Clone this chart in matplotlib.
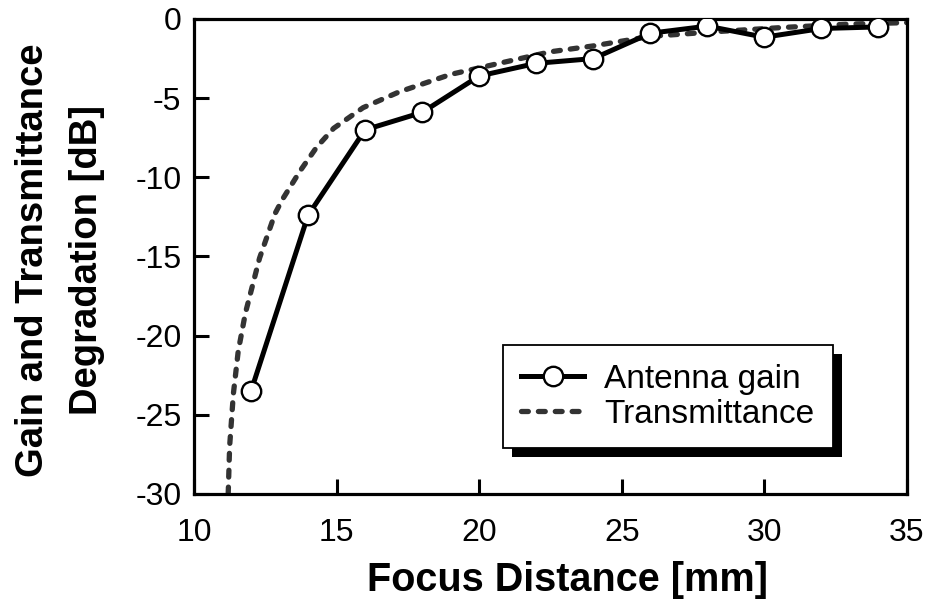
import numpy as np
import matplotlib
matplotlib.use('Agg')
import matplotlib.pyplot as plt
from matplotlib.patches import Rectangle

plt.rcParams['font.family'] = ['Liberation Sans', 'DejaVu Sans']
plt.rcParams['axes.unicode_minus'] = False

# antenna gain measurements
gain_x = [12, 14, 16, 18, 20, 22, 24, 26, 28, 30, 32, 34]
gain_db = [-23.5, -12.4, -7.0, -5.9, -3.6, -2.8, -2.5, -0.9, -0.45, -1.15, -0.6, -0.5]

# transmittance curve
trans_x = [11.2, 11.25, 11.38, 11.55, 11.8, 12.3, 12.84, 13.1, 13.72, 14.3, 14.9,
           15.93, 17.2, 19.0, 20.7, 22.5, 24.0, 26.0, 28.3, 30.7, 33.0, 35.0]
trans_db = [-30, -27, -23.7, -21, -18.6, -15.1, -12.3, -11.4, -9.6, -8.1, -6.9,
            -5.6, -4.6, -3.5, -2.8, -2.07, -1.7, -1.1, -0.8, -0.53, -0.32, -0.23]

xticks = [10, 15, 20, 25, 30, 35]
yticks = [0, -5, -10, -15, -20, -25, -30]

fig = plt.figure(figsize=(9.29, 6.03), dpi=100)
ax = fig.add_axes([0.2088, 0.1808, 0.7675, 0.7877])

ax.plot(trans_x, trans_db, color='#333333', lw=3.8, linestyle=(0, (1.3, 1.9)),
        dash_capstyle='round', label='Transmittance', zorder=2)
ax.plot(gain_x, gain_db, color='black', lw=3.6, marker='o', markersize=14,
        markerfacecolor='white', markeredgecolor='black', markeredgewidth=1.7,
        label='Antenna gain', zorder=3)

ax.set_xlim(10, 35)
ax.set_ylim(-30, 0)
ax.set_xticks(xticks)
ax.set_yticks(yticks)
ax.tick_params(direction='in', length=11, width=2.2, labelsize=23)
ax.tick_params(axis='x', pad=17)
ax.tick_params(axis='y', pad=9)
for s in ax.spines.values():
    s.set_linewidth(2.3)

ax.set_xlabel('Focus Distance [mm]', fontsize=28.5, fontweight='bold')
ax.xaxis.set_label_coords(0.524, -0.142)
ax.set_ylabel('Gain and Transmittance\nDegradation [dB]', fontsize=27.5,
              fontweight='bold', linespacing=1.65)
ax.yaxis.set_label_coords(-0.125, 0.493)

h, l = ax.get_legend_handles_labels()
leg = ax.legend(h[::-1], l[::-1], loc='lower right', bbox_to_anchor=(0.896, 0.097),
                fontsize=24, frameon=True, fancybox=False, framealpha=1,
                edgecolor='black', handlelength=1.9, handletextpad=0.6,
                labelspacing=0.12, borderpad=0.55, borderaxespad=0)
leg.get_frame().set_linewidth(1.3)

# heavy black drop shadow behind the legend box
fig.canvas.draw()
bb = leg.get_window_extent().transformed(ax.transAxes.inverted())
dx, dy = 9 / 713, 9 / 475
ax.add_patch(Rectangle((bb.x0 + dx, bb.y0 - dy), bb.width, bb.height,
                       transform=ax.transAxes, facecolor='black', edgecolor='none',
                       zorder=4.9, clip_on=False))

fig.savefig('out.png', dpi=100)
